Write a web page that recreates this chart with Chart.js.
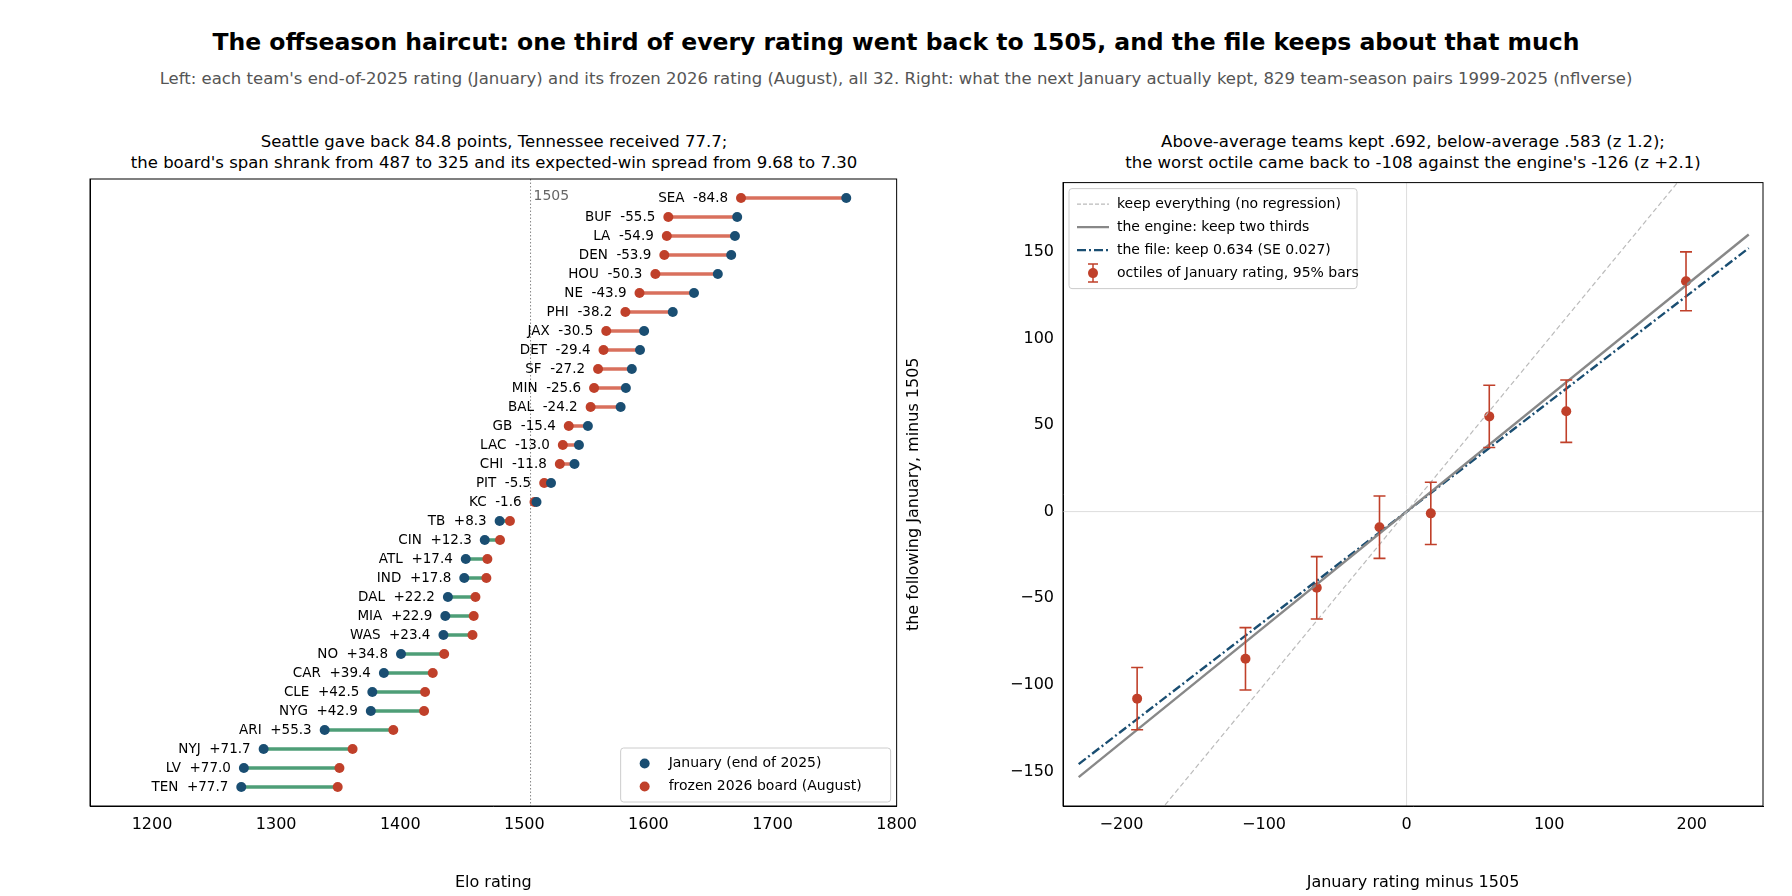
<!DOCTYPE html>
<html><head><meta charset="utf-8">
<script src="https://cdn.jsdelivr.net/npm/chart.js@4"></script>
<style>
body{margin:0;width:1792px;height:896px;background:#fff;font-family:"DejaVu Sans",sans-serif;position:relative;overflow:hidden}
#t{position:absolute;top:28px;width:100%;text-align:center;font-size:23.5px;font-weight:bold;line-height:28px}
#s{position:absolute;top:69px;width:100%;text-align:center;font-size:16.5px;color:#555;line-height:20px}
.st{position:absolute;top:131px;text-align:center;font-size:16.5px;line-height:21px;width:900px}
.c{position:absolute}
</style></head><body>
<div id="t">The offseason haircut: one third of every rating went back to 1505, and the file keeps about that much</div>
<div id="s">Left: each team's end-of-2025 rating (January) and its frozen 2026 rating (August), all 32. Right: what the next January actually kept, 829 team-season pairs 1999-2025 (nflverse)</div>
<div class="st" style="left:44px">Seattle gave back 84.8 points, Tennessee received 77.7;<br>the board's span shrank from 487 to 325 and its expected-win spread from 9.68 to 7.30</div>
<div class="st" style="left:963px">Above-average teams kept .692, below-average .583 (z 1.2);<br>the worst octile came back to -108 against the engine's -126 (z +2.1)</div>
<div class="c" style="left:0;top:170px;width:920px;height:726px"><canvas id="a"></canvas></div>
<div class="c" style="left:900px;top:170px;width:892px;height:726px"><canvas id="b"></canvas></div>
<script>
const teams=["SEA","BUF","LA","DEN","HOU","NE","PHI","JAX","DET","SF","MIN","BAL","GB","LAC","CHI","PIT","KC","TB","CIN","ATL","IND","DAL","MIA","WAS","NO","CAR","CLE","NYG","ARI","NYJ","LV","TEN"];
const deltas=[-84.8,-55.5,-54.9,-53.9,-50.3,-43.9,-38.2,-30.5,-29.4,-27.2,-25.6,-24.2,-15.4,-13.0,-11.8,-5.5,-1.6,8.3,12.3,17.4,17.8,22.2,22.9,23.4,34.8,39.4,42.5,42.9,55.3,71.7,77.0,77.7];
const january=[1759.4,1671.5,1669.7,1666.7,1655.9,1636.7,1619.6,1596.5,1593.2,1586.6,1581.8,1577.6,1551.2,1544.0,1540.4,1521.5,1509.8,1480.1,1468.1,1452.8,1451.6,1438.4,1436.3,1434.8,1400.6,1386.8,1377.5,1376.3,1339.1,1289.9,1274.0,1271.9];
const frozen=[1674.6,1616.0,1614.8,1612.8,1605.6,1592.8,1581.4,1566.0,1563.8,1559.4,1556.2,1553.4,1535.8,1531.0,1528.6,1516.0,1508.2,1488.4,1480.4,1470.2,1469.4,1460.6,1459.2,1458.2,1435.4,1426.2,1420.0,1419.2,1394.4,1361.6,1351.0,1349.6];
const octX=[-189,-113,-63,-19,17,58,112,196];
const octY=[-108,-85,-44,-9,-1,55,58,133];
const octErr=[18,18,18,18,18,18,18,17];
const lineX=[-230,240];
const xTicksL=[1200,1300,1400,1500,1600,1700,1800];
const xTicksR=[-200,-100,0,100,200];
const yTicksR=[-150,-100,-50,0,50,100,150];
Chart.defaults.font.family='"DejaVu Sans", sans-serif';
Chart.defaults.color='#000';
Chart.defaults.animation=false;
const BLUE='#1a4e72',RED='#c0402a';
const fmt=v=>String(v).replace('-','\u2212');
function legendBox(ctx,x,y,w,items,rowH){
  ctx.save();ctx.fillStyle='rgba(255,255,255,0.85)';ctx.strokeStyle='#ccc';ctx.lineWidth=1;
  const h=items.length*rowH+8;ctx.beginPath();ctx.roundRect(x,y,w,h,3);ctx.fill();ctx.stroke();
  ctx.font='14px "DejaVu Sans"';ctx.textBaseline='middle';ctx.fillStyle='#000';
  items.forEach((it,i)=>{const cy=y+4+rowH*(i+0.5);it.draw(ctx,x+24,cy);ctx.fillStyle='#000';ctx.fillText(it.t,x+48,cy);});
  ctx.restore();
}
const box={id:'box',afterDraw(c){const a=c.chartArea,g=c.ctx;g.save();g.strokeStyle='#000';g.lineWidth=1;g.strokeRect(a.left,a.top,a.right-a.left,a.bottom-a.top);g.restore();}};
const pA={id:'pA',
 beforeDatasetsDraw(c){const ctx=c.ctx,x=c.scales.x,y=c.scales.y,a=c.chartArea;ctx.save();
  ctx.strokeStyle='#888';ctx.setLineDash([1.5,2]);ctx.lineWidth=1;const px=x.getPixelForValue(1505);
  ctx.beginPath();ctx.moveTo(px,a.top);ctx.lineTo(px,a.bottom);ctx.stroke();ctx.setLineDash([]);
  ctx.fillStyle='#666';ctx.font='14px "DejaVu Sans"';ctx.textBaseline='top';ctx.fillText('1505',px+3,a.top+10);
  ctx.lineWidth=3.5;
  teams.forEach((t,i)=>{ctx.strokeStyle=deltas[i]<0?'#d9705d':'#4e9e77';const yy=y.getPixelForValue(i);
   ctx.beginPath();ctx.moveTo(x.getPixelForValue(january[i]),yy);ctx.lineTo(x.getPixelForValue(frozen[i]),yy);ctx.stroke();});
  ctx.restore();},
 afterDatasetsDraw(c){const ctx=c.ctx,x=c.scales.x,y=c.scales.y,a=c.chartArea;ctx.save();
  ctx.font='13.5px "DejaVu Sans"';ctx.textAlign='right';ctx.textBaseline='middle';ctx.fillStyle='#000';
  teams.forEach((t,i)=>{const lx=x.getPixelForValue(Math.min(january[i],frozen[i]))-13;
   const d=(deltas[i]>0?'+':'')+deltas[i].toFixed(1);ctx.fillText(t+'  '+d,lx,y.getPixelForValue(i));});
  ctx.restore();
  const dot=col=>(g,cx,cy)=>{g.fillStyle=col;g.beginPath();g.arc(cx,cy,5,0,7);g.fill();};
  legendBox(ctx,a.right-276,a.bottom-58,270,[{t:'January (end of 2025)',draw:dot(BLUE)},{t:'frozen 2026 board (August)',draw:dot(RED)}],23);
 }};
new Chart(document.getElementById('a'),{type:'scatter',
 data:{datasets:[
  {data:january.map((v,i)=>({x:v,y:i})),backgroundColor:BLUE,borderWidth:0,pointRadius:5},
  {data:frozen.map((v,i)=>({x:v,y:i})),backgroundColor:RED,borderWidth:0,pointRadius:5}]},
 options:{responsive:true,maintainAspectRatio:false,layout:{padding:{left:0,right:23,top:9,bottom:0}},
  plugins:{legend:{display:false},tooltip:{enabled:false}},
  scales:{x:{type:'linear',min:1150,max:1800,afterBuildTicks(s){s.ticks=xTicksL.map(v=>({value:v}))},afterFit(s){s.height=90},
    grid:{display:false,drawTicks:true,tickLength:6},border:{color:'#000'},ticks:{font:{size:16},color:'#000',callback:v=>String(v)},
    title:{display:true,text:'Elo rating',font:{size:16}}},
   y:{type:'linear',min:-1,max:32,reverse:true,afterFit(s){s.width=90},grid:{display:false},border:{color:'#000'},ticks:{display:false}}}},
 plugins:[pA,box]});

const pB={id:'pB',
 beforeDatasetsDraw(c){const ctx=c.ctx,x=c.scales.x,y=c.scales.y,a=c.chartArea;ctx.save();ctx.strokeStyle='#ddd';ctx.lineWidth=1;
  let px=x.getPixelForValue(0),py=y.getPixelForValue(0);ctx.beginPath();ctx.moveTo(px,a.top);ctx.lineTo(px,a.bottom);ctx.moveTo(a.left,py);ctx.lineTo(a.right,py);ctx.stroke();ctx.restore();},
 afterDatasetsDraw(c){const ctx=c.ctx,x=c.scales.x,y=c.scales.y,a=c.chartArea;ctx.save();ctx.strokeStyle=RED;ctx.lineWidth=1.6;
  octX.forEach((v,i)=>{const px=x.getPixelForValue(v),t=y.getPixelForValue(octY[i]+octErr[i]),b=y.getPixelForValue(octY[i]-octErr[i]);
   ctx.beginPath();ctx.moveTo(px,t);ctx.lineTo(px,b);ctx.moveTo(px-6,t);ctx.lineTo(px+6,t);ctx.moveTo(px-6,b);ctx.lineTo(px+6,b);ctx.stroke();});
  ctx.restore();
  const ln=(col,dash,w)=>(g,cx,cy)=>{g.save();g.strokeStyle=col;g.lineWidth=w;g.setLineDash(dash);g.beginPath();g.moveTo(cx-16,cy);g.lineTo(cx+16,cy);g.stroke();g.restore();};
  legendBox(ctx,a.left+6,a.top+6,288,[{t:'keep everything (no regression)',draw:ln('#bbb',[4,2],1.2)},{t:'the engine: keep two thirds',draw:ln('#888',[],2.4)},
   {t:'the file: keep 0.634 (SE 0.027)',draw:ln(BLUE,[9,3,2,3],2.4)},
   {t:'octiles of January rating, 95% bars',draw:(g,cx,cy)=>{g.save();g.strokeStyle=RED;g.fillStyle=RED;g.lineWidth=1.5;g.beginPath();g.moveTo(cx,cy-9);g.lineTo(cx,cy+9);g.moveTo(cx-5,cy-9);g.lineTo(cx+5,cy-9);g.moveTo(cx-5,cy+9);g.lineTo(cx+5,cy+9);g.stroke();g.beginPath();g.arc(cx,cy,5,0,7);g.fill();g.restore();}}],23);
 }};
new Chart(document.getElementById('b'),{type:'scatter',
 data:{datasets:[
  {data:lineX.map(v=>({x:v,y:v})),showLine:true,borderColor:'#bbb',borderWidth:1.2,borderDash:[5,3],pointRadius:0},
  {data:lineX.map(v=>({x:v,y:v*2/3})),showLine:true,borderColor:'#888',borderWidth:2.4,pointRadius:0},
  {data:lineX.map(v=>({x:v,y:v*0.634})),showLine:true,borderColor:BLUE,borderWidth:2.4,borderDash:[9,3,2,3],pointRadius:0},
  {data:octX.map((v,i)=>({x:v,y:octY[i]})),backgroundColor:RED,borderWidth:0,pointRadius:5}]},
 options:{responsive:true,maintainAspectRatio:false,layout:{padding:{left:0,right:29,top:9,bottom:0}},
  plugins:{legend:{display:false},tooltip:{enabled:false}},
  scales:{x:{type:'linear',min:-241,max:250,afterBuildTicks(s){s.ticks=xTicksR.map(v=>({value:v}))},afterFit(s){s.height=90},grid:{display:false,drawTicks:true,tickLength:6},border:{color:'#000'},
    ticks:{font:{size:16},color:'#000',callback:fmt},title:{display:true,text:'January rating minus 1505',font:{size:16}}},
   y:{type:'linear',min:-170,max:190,afterBuildTicks(s){s.ticks=yTicksR.map(v=>({value:v}))},afterFit(s){s.width=163},grid:{display:false,drawTicks:true,tickLength:6},border:{color:'#000'},
    ticks:{font:{size:16},color:'#000',callback:fmt},title:{display:true,text:'the following January, minus 1505',font:{size:16}}}}},
 plugins:[pB,{id:'clip',beforeDatasetsDraw(c){const a=c.chartArea;c.ctx.save();c.ctx.beginPath();c.ctx.rect(a.left,a.top,a.right-a.left,a.bottom-a.top);c.ctx.clip();},afterDatasetsDraw(c){c.ctx.restore();}},box]});
</script></body></html>
